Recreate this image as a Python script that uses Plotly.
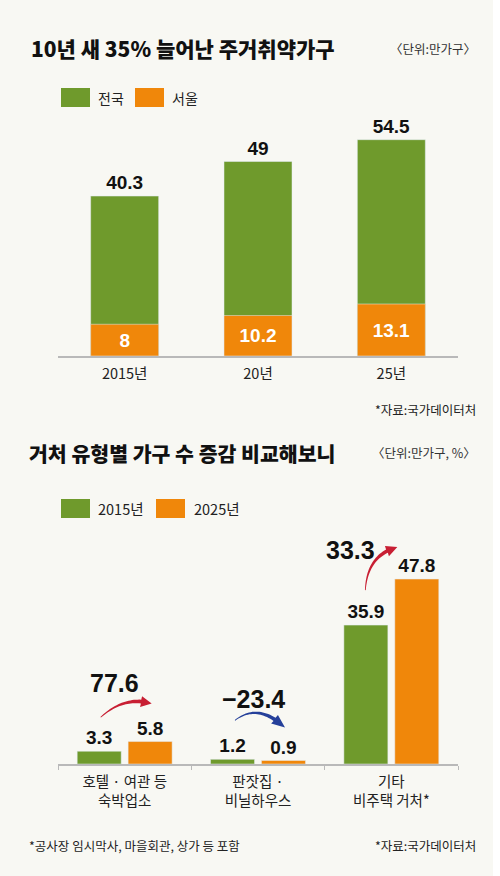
import math
import plotly.graph_objects as go

# 10년 새 35% 늘어난 주거취약가구 (단위: 만가구)
years = ["2015년", "20년", "25년"]
nationwide = [40.3, 49, 54.5]
seoul = [8, 10.2, 13.1]
top_names = ["전국", "서울"]

# 거처 유형별 가구 수 증감 (단위: 만가구, %)
types = ["호텔 · 여관 등<br>숙박업소", "판잣집 ·<br>비닐하우스", "기타<br>비주택 거처*"]
hh_2015 = [3.3, 1.2, 35.9]
hh_2025 = [5.8, 0.9, 47.8]
change_pct = [77.6, -23.4, 33.3]
bottom_names = ["2015년", "2025년"]

GREEN = "#6f9a2c"
ORANGE = "#f0870a"
RED = "#c81f33"
BLUE = "#25409a"
BG = "#f8f8f3"
KR = "Noto Sans CJK KR"
NUM = "Liberation Sans, Arial"

W, H = 500, 876
AX_L, AX_R = 58, 458
TOP_BASE, TOP_TOP, TOP_RANGE = 356, 100, 64.5
BOT_BASE, BOT_TOP, BOT_RANGE = 764, 540, 57.9
S2 = (BOT_BASE - BOT_TOP) / BOT_RANGE


def px(x):
    return x / W


def py(y):
    return 1 - y / H


def bx(i):
    # pixel centre of category i
    return AX_L + (i + 0.5) * (AX_R - AX_L) / 3


def by2(v):
    return BOT_BASE - v * S2


def arrow_path(p0, p1, p2, w0=0.8, w1=3.8, head_len=11, head_w=11):
    def pt(t):
        return ((1 - t) ** 2 * p0[0] + 2 * (1 - t) * t * p1[0] + t * t * p2[0],
                (1 - t) ** 2 * p0[1] + 2 * (1 - t) * t * p1[1] + t * t * p2[1])

    def tan(t):
        return (2 * (1 - t) * (p1[0] - p0[0]) + 2 * t * (p2[0] - p1[0]),
                2 * (1 - t) * (p1[1] - p0[1]) + 2 * t * (p2[1] - p1[1]))

    L = 0
    prev = pt(0)
    for k in range(1, 51):
        cur = pt(k / 50)
        L += math.hypot(cur[0] - prev[0], cur[1] - prev[1])
        prev = cur
    tb = 1 - head_len / L
    left, right = [], []
    n = 24
    for k in range(n + 1):
        t = tb * k / n
        x, y = pt(t)
        dx, dy = tan(t)
        m = math.hypot(dx, dy)
        nx, ny = -dy / m, dx / m
        w = w0 + (w1 - w0) * (t / tb)
        left.append((x + nx * w / 2, y + ny * w / 2))
        right.append((x - nx * w / 2, y - ny * w / 2))
    bxp, byp = pt(tb)
    dx, dy = p2[0] - bxp, p2[1] - byp
    m = math.hypot(dx, dy)
    nx, ny = -dy / m, dx / m
    head = [(bxp + nx * head_w / 2, byp + ny * head_w / 2), p2,
            (bxp - nx * head_w / 2, byp - ny * head_w / 2)]
    pts = left + head + right[::-1]
    return "M " + " L ".join(f"{px(x):.5f},{py(y):.5f}" for x, y in pts) + " Z"


fig = go.Figure()

# top chart: nationwide with Seoul overlaid
fig.add_trace(go.Bar(
    x=years, y=nationwide, name=top_names[0], marker_color=GREEN,
    width=0.51, text=[f"{v:g}" for v in nationwide], textposition="outside",
    textfont=dict(family=NUM, size=19, color="#111", weight="bold"),
    constraintext="none", cliponaxis=False, xaxis="x", yaxis="y"))
fig.add_trace(go.Bar(
    x=years, y=seoul, name=top_names[1], marker_color=ORANGE,
    width=0.51, text=[f"{v:g}" for v in seoul], textposition="inside",
    insidetextanchor="middle",
    textfont=dict(family=NUM, size=19, color="white", weight="bold"),
    constraintext="none", xaxis="x", yaxis="y"))

# bottom chart: 2015 vs 2025
fig.add_trace(go.Bar(
    x=types, y=hh_2015, name=bottom_names[0], marker_color=GREEN,
    width=0.33, offset=-0.356, text=[f"{v:g}" for v in hh_2015],
    textposition="outside",
    textfont=dict(family=NUM, size=19, color="#111", weight="bold"),
    constraintext="none", cliponaxis=False, xaxis="x2", yaxis="y2"))
fig.add_trace(go.Bar(
    x=types, y=hh_2025, name=bottom_names[1], marker_color=ORANGE,
    width=0.33, offset=0.026, text=[f"{v:g}" for v in hh_2025],
    textposition="outside",
    textfont=dict(family=NUM, size=19, color="#111", weight="bold"),
    constraintext="none", cliponaxis=False, xaxis="x2", yaxis="y2"))

annotations = []
shapes = []


def note(text, x, y, size, anchor="left", weight="normal", color="#222", family=KR):
    annotations.append(dict(text=text, x=px(x), y=py(y), xref="paper", yref="paper",
                            xanchor=anchor, yanchor="middle", showarrow=False,
                            font=dict(family=family, size=size, color=color, weight=weight)))


def legend_box(x, y, color):
    shapes.append(dict(type="rect", xref="paper", yref="paper", x0=px(x), x1=px(x + 29),
                       y0=py(y + 19), y1=py(y), fillcolor=color, line_width=0))


# titles and notes
note("10년 새 35% 늘어난 주거취약가구", 29, 48, 21, weight=900, color="#111")
note("〈단위:만가구〉", 478, 48, 12.5, anchor="right", color="#333")
note("거처 유형별 가구 수 증감 비교해보니", 27, 453, 20.5, weight=900, color="#111")
note("〈단위:만가구, %〉", 478, 453, 12.5, anchor="right", color="#333")
note("*자료:국가데이터처", 478, 410, 12.5, anchor="right", color="#222")
note("*자료:국가데이터처", 478, 845, 12.5, anchor="right", color="#222")
note("*공사장 임시막사, 마을회관, 상가 등 포함", 27, 845, 12.5, color="#222")

# legends
legend_box(61, 88, GREEN)
note(top_names[0], 96, 98, 14)
legend_box(135, 88, ORANGE)
note(top_names[1], 170, 98, 14)
legend_box(61, 499, GREEN)
note(bottom_names[0], 96, 508, 14.5)
legend_box(156, 499, ORANGE)
note(bottom_names[1], 192, 508, 14.5)

# change arrows: offsets in px from (category centre, bar top)
arrow_geo = [((-24, -34), (0, -8), (27, -38)),
             ((-23, -39), (0, -18), (27, -33)),
             ((-26, -35), (-24, 8), (6, -32))]
label_off = [(-10, -13), (-5, -3), (-17, -5)]

for i, pct in enumerate(change_pct):
    (sdx, sdy), (cdx, cdy), (edx, edy) = arrow_geo[i]
    p0 = (bx(i) + sdx, by2(hh_2015[i]) + sdy)
    p2 = (bx(i) + edx, by2(hh_2025[i]) + edy)
    p1 = (bx(i) + cdx, min(p0[1], p2[1]) + cdy)
    color = RED if pct >= 0 else BLUE
    shapes.append(dict(type="path", xref="paper", yref="paper",
                       path=arrow_path(p0, p1, p2), fillcolor=color, line_width=0))
    txt = f"{pct:g}" if pct >= 0 else f"−{abs(pct):g}"
    note(txt, p1[0] + label_off[i][0], p1[1] + label_off[i][1], 25,
         anchor="center", weight="bold", color="#111", family=NUM)

# white strip at the right edge
shapes.append(dict(type="rect", xref="paper", yref="paper", x0=px(493), x1=1,
                   y0=0, y1=1, fillcolor="white", line_width=0, layer="below"))

axis_common = dict(showline=True, linecolor="#b9b9b9", linewidth=1.5,
                   showgrid=False, zeroline=False, range=[-0.5, 2.5],
                   tickfont=dict(family=KR, size=14.5, color="#222"),
                   fixedrange=True)
yaxis_common = dict(visible=False, showgrid=False, zeroline=False, fixedrange=True)

fig.update_layout(
    width=W, height=H, margin=dict(l=0, r=0, t=0, b=0),
    paper_bgcolor=BG, plot_bgcolor="rgba(0,0,0,0)",
    barmode="overlay", showlegend=False,
    xaxis=dict(domain=[px(AX_L), px(AX_R)], anchor="y", ticks="",
               ticklabelstandoff=4, **axis_common),
    yaxis=dict(domain=[py(TOP_BASE), py(TOP_TOP)], anchor="x",
               range=[0, TOP_RANGE], **yaxis_common),
    xaxis2=dict(domain=[px(AX_L), px(AX_R)], anchor="y2", ticks="outside",
                tickson="boundaries", ticklen=4, tickcolor="#b9b9b9",
                ticklabelstandoff=4, **axis_common),
    yaxis2=dict(domain=[py(BOT_BASE), py(BOT_TOP)], anchor="x2",
                range=[0, BOT_RANGE], **yaxis_common),
    annotations=annotations, shapes=shapes,
)

fig.write_html("out.html", config={"displayModeBar": False},
               post_script="document.body.style.margin='0';")
